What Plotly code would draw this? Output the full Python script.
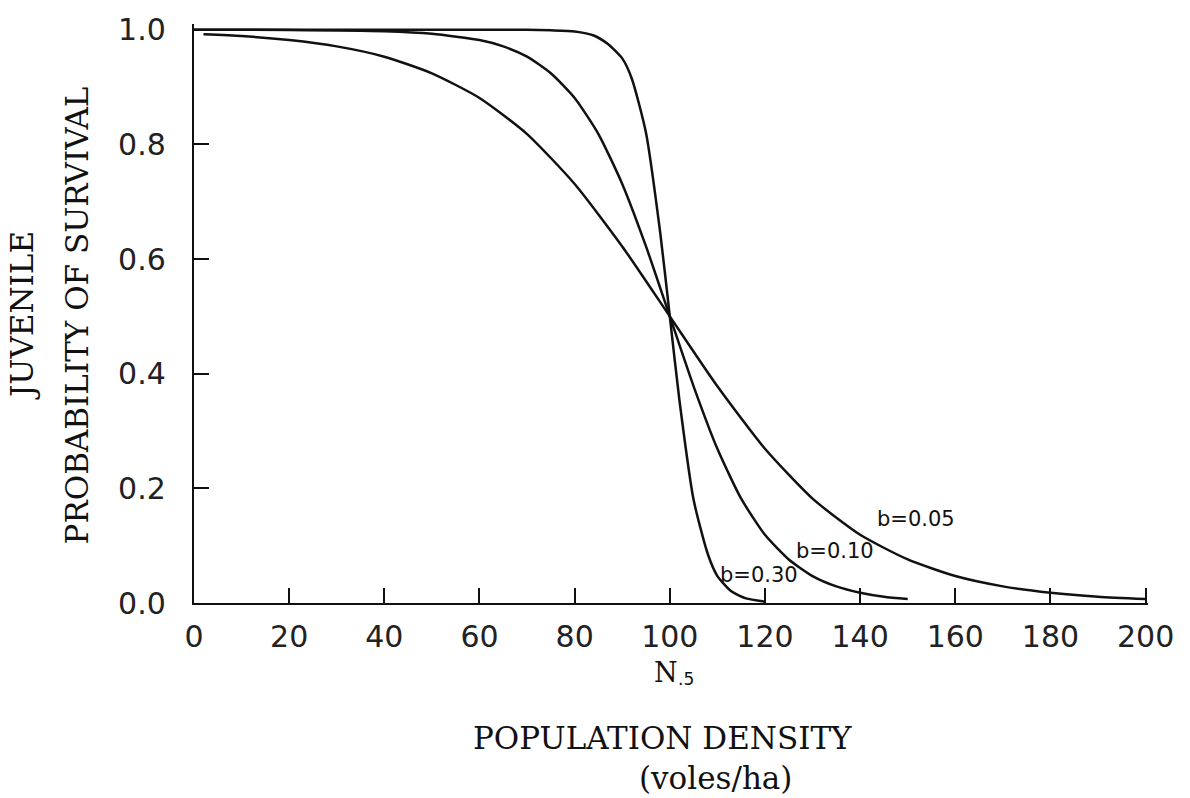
import plotly.graph_objects as go

# Juvenile survival vs. population density for three slope values (b)
n_b005 = [2, 10, 20, 30, 40, 50, 60, 70, 80, 90, 100, 110, 120, 130, 140, 150, 160, 170, 180, 190, 200]
p_b005 = [0.992, 0.989, 0.982, 0.971, 0.953, 0.924, 0.881, 0.818, 0.731, 0.622, 0.5,
          0.378, 0.269, 0.182, 0.119, 0.076, 0.047, 0.029, 0.018, 0.011, 0.007]

n_b010 = [0, 20, 40, 50, 60, 65, 70, 75, 80, 85, 90, 95, 100, 105, 110, 115, 120, 125,
          130, 135, 140, 145, 150]
p_b010 = [1.0, 0.9997, 0.9975, 0.993, 0.982, 0.971, 0.953, 0.924, 0.881, 0.818, 0.731,
          0.622, 0.5, 0.378, 0.269, 0.182, 0.119, 0.076, 0.047, 0.029, 0.018, 0.011, 0.007]

n_b030 = [0, 20, 40, 60, 70, 75, 80, 84, 87, 90, 92, 95, 98, 100, 102, 105, 108, 110,
          113, 116, 120]
p_b030 = [1.0, 1.0, 1.0, 1.0, 1.0, 0.999, 0.997, 0.99, 0.975, 0.95, 0.915, 0.82, 0.645,
          0.5, 0.355, 0.18, 0.085, 0.047, 0.02, 0.008, 0.0025]

curve_labels = ["b=0.05", "b=0.10", "b=0.30"]
label_x = [151.7, 134.7, 118.7]
label_y = [0.146, 0.091, 0.048]

x_ticks = [0, 20, 40, 60, 80, 100, 120, 140, 160, 180, 200]
y_ticks = [0.0, 0.2, 0.4, 0.6, 0.8, 1.0]
y_tick_text = ["0.0", "0.2", "0.4", "0.6", "0.8", "1.0"]

ink = "#111111"
line_style = dict(color=ink, width=2.5, shape="spline", smoothing=0.6)

fig = go.Figure()
for xs, ys in [(n_b005, p_b005), (n_b010, p_b010), (n_b030, p_b030)]:
    fig.add_trace(go.Scatter(x=xs, y=ys, mode="lines", line=line_style,
                             showlegend=False, hoverinfo="skip"))

for txt, lx, ly in zip(curve_labels, label_x, label_y):
    fig.add_annotation(x=lx, y=ly, xref="x", yref="y", text=txt, showarrow=False,
                       font=dict(family="DejaVu Sans", size=21, color=ink),
                       xanchor="center", yanchor="middle")

title_font = dict(family="DejaVu Serif", size=31, color=ink)

# x-axis captions
fig.add_annotation(x=99.3, y=-0.12, xref="x", yref="paper", showarrow=False,
                   text="N", font=dict(family="DejaVu Serif", size=27, color=ink),
                   xanchor="center", yanchor="middle")
fig.add_annotation(x=103.5, y=-0.132, xref="x", yref="paper", showarrow=False,
                   text=".5", font=dict(family="DejaVu Sans", size=17, color=ink),
                   xanchor="center", yanchor="middle")
fig.add_annotation(x=98.5, y=-0.233, xref="x", yref="paper", showarrow=False,
                   text="POPULATION DENSITY", font=title_font,
                   xanchor="center", yanchor="middle")
fig.add_annotation(x=109.5, y=-0.302, xref="x", yref="paper", showarrow=False,
                   text="(voles/ha)", font=title_font,
                   xanchor="center", yanchor="middle")

# y-axis captions (two rotated lines)
fig.add_annotation(x=-0.180, y=0.496, xref="paper", yref="paper", showarrow=False,
                   text="JUVENILE", font=title_font, textangle=-90,
                   xanchor="center", yanchor="middle")
fig.add_annotation(x=-0.123, y=0.496, xref="paper", yref="paper", showarrow=False,
                   text="PROBABILITY OF SURVIVAL", font=title_font, textangle=-90,
                   xanchor="center", yanchor="middle")

tick_font = dict(family="DejaVu Sans", size=30, color="#222222")

fig.update_xaxes(range=[0, 200.5], showline=True, linecolor=ink, linewidth=2.4,
                 showgrid=False, zeroline=False, ticks="inside", ticklen=15,
                 tickwidth=1.6, tickcolor=ink, tickvals=x_ticks, tickfont=tick_font,
                 ticklabelstandoff=6)
fig.update_yaxes(range=[0, 1.01], showline=True, linecolor=ink, linewidth=2.4,
                 showgrid=False, zeroline=False, ticks="inside", ticklen=15,
                 tickwidth=1.6, tickcolor=ink, tickvals=y_ticks, ticktext=y_tick_text,
                 tickfont=tick_font, ticklabelstandoff=20)

fig.update_layout(width=1190, height=798, margin=dict(l=194, r=42, t=16, b=195),
                  plot_bgcolor="white", paper_bgcolor="white")

fig.write_html("out.html")
